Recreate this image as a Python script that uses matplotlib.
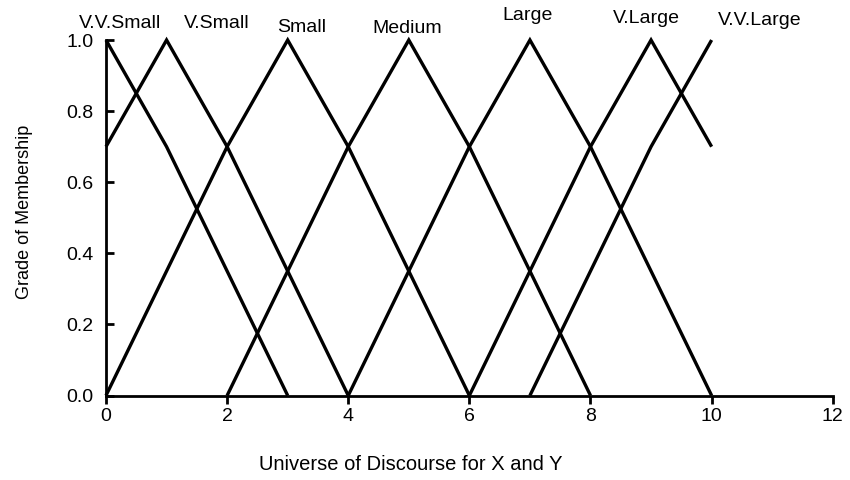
import numpy as np
import matplotlib
matplotlib.use("Agg")
import matplotlib.pyplot as plt

plt.rcParams["font.family"] = ["Liberation Sans", "DejaVu Sans"]

nan = np.nan
x = np.arange(0, 11)
set_names = ["V.V.Small", "V.Small", "Small", "Medium", "Large", "V.Large", "V.V.Large"]

# membership grade at each integer point of the universe (nan = outside support)
vv_small = [1.0, 0.7, 0.35, 0.0, nan, nan, nan, nan, nan, nan, nan]
v_small  = [0.7, 1.0, 0.7, 0.35, 0.0, nan, nan, nan, nan, nan, nan]
small    = [0.0, 0.35, 0.7, 1.0, 0.7, 0.35, 0.0, nan, nan, nan, nan]
medium   = [nan, nan, 0.0, 0.35, 0.7, 1.0, 0.7, 0.35, 0.0, nan, nan]
large    = [nan, nan, nan, nan, 0.0, 0.35, 0.7, 1.0, 0.7, 0.35, 0.0]
v_large  = [nan, nan, nan, nan, nan, nan, 0.0, 0.35, 0.7, 1.0, 0.7]
vv_large = [nan, nan, nan, nan, nan, nan, nan, 0.0, 0.35, 0.7, 1.0]
all_sets = [vv_small, v_small, small, medium, large, v_large, vv_large]

# where the set names sit (data coords, baseline)
label_x = [0.24, 1.82, 3.23, 4.97, 6.96, 8.93, 10.79]
label_y = [1.035, 1.035, 1.024, 1.021, 1.055, 1.049, 1.041]

x_ticks = [0, 2, 4, 6, 8, 10, 12]
y_ticks = [0.0, 0.2, 0.4, 0.6, 0.8, 1.0]

fig = plt.figure(figsize=(8.5, 4.8), dpi=100)
ax = fig.add_axes([0.1247, 0.176, 0.855, 0.7406])

for vals in all_sets:
    ax.plot(x, vals, color="black", linewidth=2.4, solid_joinstyle="miter",
            solid_capstyle="butt", clip_on=False)

for name, lx, ly in zip(set_names, label_x, label_y):
    ax.text(lx, ly, name, ha="center", va="baseline", fontsize=14, clip_on=False)

ax.set_xlim(0, 12)
ax.set_ylim(0, 1.0)
ax.set_xticks(x_ticks)
ax.set_xticklabels([str(t) for t in x_ticks], fontsize=14)
ax.set_yticks(y_ticks)
ax.set_yticklabels([f"{t:.1f}" for t in y_ticks], fontsize=14)

for s in ["top", "right"]:
    ax.spines[s].set_visible(False)
for s in ["left", "bottom"]:
    ax.spines[s].set_linewidth(2.0)

ax.tick_params(axis="x", direction="out", length=6, width=2.0, pad=3)
ax.tick_params(axis="y", direction="in", length=6, width=2.0, pad=9)

ax.set_xlabel("Universe of Discourse for X and Y", fontsize=14.5)
ax.xaxis.set_label_coords(0.42, -0.167)
ax.set_ylabel("Grade of Membership", fontsize=13)
ax.yaxis.set_label_coords(-0.1, 0.516)

fig.savefig("out.png", dpi=100)
